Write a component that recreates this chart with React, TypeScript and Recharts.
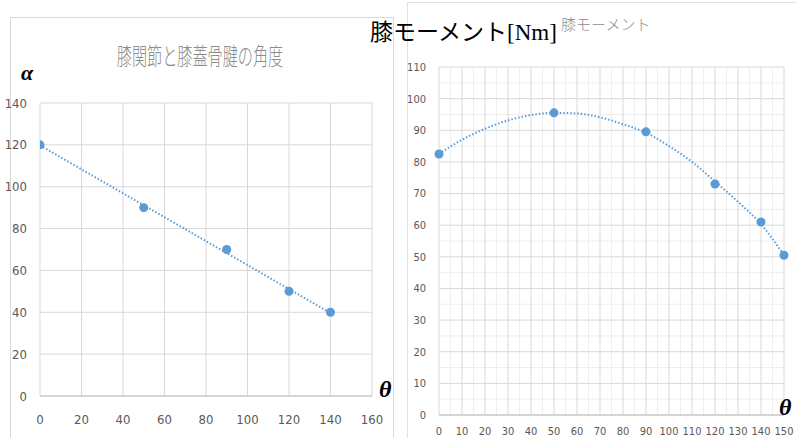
import React from "react";
import {
  CartesianGrid,
  ComposedChart,
  Line,
  Scatter,
  XAxis,
  YAxis,
} from "recharts";

// 膝関節と膝蓋骨腱の角度
const angleTheta = [0, 50, 90, 120, 140];
const angleAlpha = [120, 90, 70, 50, 40];
const angleTrendTheta = [0, 140];
const angleTrendAlpha = [119.7, 39.7];
const angleXTicks = [0, 20, 40, 60, 80, 100, 120, 140, 160];
const angleYTicks = [0, 20, 40, 60, 80, 100, 120, 140];

// 膝モーメント
const momentTheta = [0, 50, 90, 120, 140, 150];
const momentNm = [82.5, 95.5, 89.5, 73, 61, 50.5];
const momentTrendTheta = [0, 10, 20, 30, 40, 50, 60, 70, 80, 90, 100, 110, 120, 130, 140, 150];
const momentTrendNm = [82.5, 87.0, 90.5, 93.1, 94.8, 95.5, 95.3, 94.1, 91.9, 89.2, 85.0, 80.0, 73.8, 67.4, 60.3, 50.5];
const momentXTicks = [0, 10, 20, 30, 40, 50, 60, 70, 80, 90, 100, 110, 120, 130, 140, 150];
const momentYTicks = [0, 10, 20, 30, 40, 50, 60, 70, 80, 90, 100, 110];
const momentXMinor = [5, 15, 25, 35, 45, 55, 65, 75, 85, 95, 105, 115, 125, 135, 145];
const momentYMinor = [5, 15, 25, 35, 45, 55, 65, 75, 85, 95, 105];

const BLUE = "#5b9bd5";
const TICK_FONT = "'Liberation Sans Narrow', 'DejaVu Sans Condensed', 'Noto Sans', sans-serif";
const tickStyle = { fill: "#595959", fontSize: 12, fontFamily: TICK_FONT };

const zip = (xs: number[], ys: number[]) => xs.map((x, i) => ({ x, y: ys[i] }));

const Dot = (p: any) => <circle cx={p.cx} cy={p.cy} r={4.5} fill={BLUE} />;

const greek: React.CSSProperties = {
  position: "absolute",
  fontFamily: "'Liberation Serif', 'DejaVu Serif', serif",
  fontStyle: "italic",
  fontWeight: "bold",
  color: "#000",
  lineHeight: 1,
};

export default function App() {
  const angleTrend = zip(angleTrendTheta, angleTrendAlpha);
  const anglePts = zip(angleTheta, angleAlpha);
  const momentTrend = zip(momentTrendTheta, momentTrendNm);
  const momentPts = zip(momentTheta, momentNm);

  return (
    <div style={{ position: "absolute", left: 0, top: 0, width: 796, height: 438, background: "#fff", overflow: "hidden" }}>
      {/* panel borders */}
      <div style={{ position: "absolute", left: 10, top: 17, width: 382, height: 440, border: "1px solid #d9d9d9" }} />
      <div style={{ position: "absolute", left: 407, top: 2, width: 400, height: 440, border: "1px solid #e0e0e0" }} />

      {/* left chart */}
      <div style={{ position: "absolute", left: 0, top: 0 }}>
        <ComposedChart width={396} height={438} margin={{ top: 103, right: 24, bottom: 12, left: 10 }}>
          <CartesianGrid stroke="#d9d9d9" />
          <XAxis
            type="number"
            dataKey="x"
            domain={[0, 160]}
            ticks={angleXTicks}
            tickLine={false}
            axisLine={{ stroke: "#bfbfbf" }}
            tick={{ ...tickStyle, fontSize: 13 }}
            tickMargin={13}
            height={30}
            allowDataOverflow
          />
          <YAxis
            type="number"
            dataKey="y"
            domain={[0, 140]}
            ticks={angleYTicks}
            tickLine={false}
            axisLine={false}
            tick={{ ...tickStyle, fontSize: 13 }}
            tickMargin={7}
            width={30}
          />
          <Line
            data={angleTrend}
            dataKey="y"
            type="linear"
            stroke={BLUE}
            strokeWidth={2}
            strokeDasharray="1.5 2"
            dot={false}
            isAnimationActive={false}
          />
          <Scatter data={anglePts} dataKey="y" shape={Dot} isAnimationActive={false} />
        </ComposedChart>
      </div>

      {/* right chart */}
      <div style={{ position: "absolute", left: 400, top: 0 }}>
        <ComposedChart width={396} height={438} margin={{ top: 67, right: 12, bottom: 5, left: 9 }}>
          <CartesianGrid stroke="#eeeeee" verticalValues={momentXMinor} horizontalValues={momentYMinor} />
          <CartesianGrid stroke="#d9d9d9" />
          <XAxis
            type="number"
            dataKey="x"
            domain={[0, 150]}
            ticks={momentXTicks}
            tickLine={false}
            axisLine={{ stroke: "#bfbfbf" }}
            tick={{ ...tickStyle, fontSize: 11 }}
            tickMargin={6}
            height={18}
            interval={0}
          />
          <YAxis
            type="number"
            dataKey="y"
            domain={[0, 110]}
            ticks={momentYTicks}
            tickLine={false}
            axisLine={false}
            tick={{ ...tickStyle, fontSize: 11 }}
            tickMargin={7}
            width={30}
          />
          <Line
            data={momentTrend}
            dataKey="y"
            type="monotone"
            stroke={BLUE}
            strokeWidth={2}
            strokeDasharray="1.5 2"
            dot={false}
            isAnimationActive={false}
          />
          <Scatter data={momentPts} dataKey="y" shape={Dot} isAnimationActive={false} />
        </ComposedChart>
      </div>

      {/* titles */}
      <div
        style={{
          position: "absolute",
          left: 200,
          top: 40,
          transform: "translateX(-50%) scaleX(0.63)",
          whiteSpace: "nowrap",
          fontFamily: "'Noto Sans CJK JP', sans-serif",
          fontWeight: 300,
          fontSize: 24,
          lineHeight: "30px",
          color: "#8c8c8c",
        }}
      >
        膝関節と膝蓋骨腱の角度
      </div>
      <div
        style={{
          position: "absolute",
          left: 370,
          top: 18,
          whiteSpace: "nowrap",
          fontFamily: "'Liberation Serif', 'Noto Sans CJK JP', serif",
          fontSize: 23,
          lineHeight: "30px",
          color: "#000",
        }}
      >
        膝モーメント[Nm]
      </div>
      <div
        style={{
          position: "absolute",
          left: 561,
          top: 15,
          whiteSpace: "nowrap",
          fontFamily: "'Noto Sans CJK JP', sans-serif",
          fontWeight: 300,
          fontSize: 15,
          lineHeight: "18px",
          color: "#8c8c8c",
        }}
      >
        膝モーメント
      </div>

      {/* axis symbols */}
      <div style={{ ...greek, left: 21, top: 62, fontSize: 22 }}>α</div>
      <div style={{ ...greek, left: 379, top: 377, fontSize: 24 }}>θ</div>
      <div style={{ ...greek, left: 779, top: 395, fontSize: 24 }}>θ</div>
    </div>
  );
}
